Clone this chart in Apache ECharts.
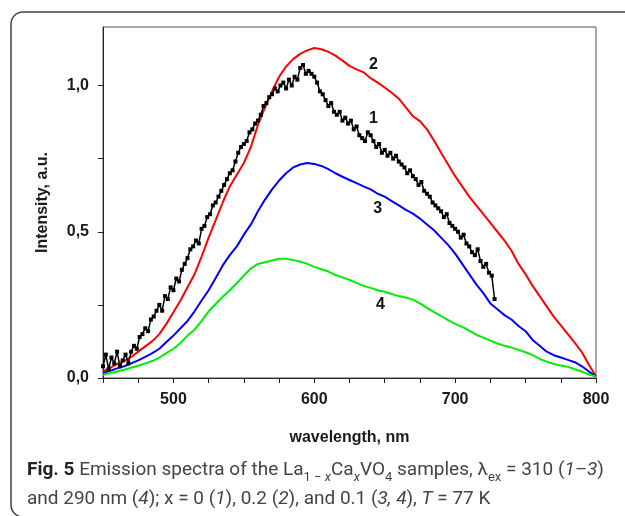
<!DOCTYPE html>
<html>
<head>
<meta charset="utf-8">
<title>Emission spectra La1-xCaxVO4</title>
<script src="https://cdn.jsdelivr.net/npm/echarts@6/dist/echarts.min.js"></script>
<style>
  html, body { margin: 0; padding: 0; background: #fff; }
  #chart { width: 625px; height: 516px; }
</style>
</head>
<body>
<div id="chart"></div>
<script>
// wavelength grid of the smooth curves (nm)
var wavelengths = [450, 455, 460, 465, 470, 475, 480, 485, 490, 495,
  500, 505, 510, 515, 520, 525, 530, 535, 540, 545,
  550, 555, 560, 565, 570, 575, 580, 585, 590, 595,
  600, 605, 610, 615, 620, 625, 630, 635, 640, 645,
  650, 655, 660, 665, 670, 675, 680, 685, 690, 695,
  700, 705, 710, 715, 720, 725, 730, 735, 740, 745,
  750, 755, 760, 765, 770, 775, 780, 785, 790, 795, 800];

// curve 2 (red), x = 0.2
var curve2 = [0.023, 0.035, 0.048, 0.058, 0.072, 0.090, 0.108, 0.126, 0.150, 0.185,
  0.225, 0.265, 0.310, 0.355, 0.415, 0.480, 0.540, 0.600, 0.655, 0.695,
  0.735, 0.790, 0.865, 0.925, 0.980, 1.030, 1.065, 1.090, 1.108, 1.120,
  1.128, 1.124, 1.115, 1.102, 1.085, 1.067, 1.055, 1.045, 1.025, 1.010,
  0.993, 0.975, 0.955, 0.925, 0.895, 0.878, 0.850, 0.812, 0.770, 0.730,
  0.690, 0.655, 0.620, 0.590, 0.560, 0.530, 0.500, 0.470, 0.435, 0.390,
  0.355, 0.315, 0.280, 0.245, 0.210, 0.180, 0.150, 0.120, 0.088, 0.045, 0.005];

// curve 3 (blue), x = 0.1, 310 nm
var curve3 = [0.017, 0.025, 0.033, 0.040, 0.050, 0.060, 0.072, 0.085, 0.100, 0.123,
  0.145, 0.170, 0.195, 0.228, 0.265, 0.300, 0.342, 0.385, 0.420, 0.450,
  0.490, 0.525, 0.570, 0.610, 0.645, 0.675, 0.700, 0.720, 0.730, 0.735,
  0.732, 0.725, 0.714, 0.700, 0.688, 0.677, 0.666, 0.655, 0.645, 0.630,
  0.620, 0.605, 0.590, 0.575, 0.562, 0.545, 0.525, 0.505, 0.480, 0.455,
  0.425, 0.390, 0.355, 0.320, 0.290, 0.255, 0.235, 0.215, 0.200, 0.178,
  0.160, 0.130, 0.110, 0.090, 0.078, 0.070, 0.062, 0.054, 0.040, 0.022, 0.005];

// curve 4 (green), x = 0.1, 290 nm
var curve4 = [0.011, 0.016, 0.022, 0.028, 0.035, 0.042, 0.050, 0.058, 0.070, 0.085,
  0.100, 0.120, 0.145, 0.165, 0.195, 0.228, 0.253, 0.278, 0.300, 0.325,
  0.350, 0.375, 0.390, 0.396, 0.402, 0.408, 0.408, 0.403, 0.398, 0.390,
  0.380, 0.372, 0.364, 0.352, 0.344, 0.335, 0.325, 0.315, 0.308, 0.300,
  0.295, 0.287, 0.280, 0.275, 0.268, 0.255, 0.240, 0.225, 0.212, 0.198,
  0.185, 0.175, 0.162, 0.148, 0.138, 0.128, 0.118, 0.110, 0.104, 0.096,
  0.088, 0.078, 0.065, 0.056, 0.048, 0.043, 0.038, 0.030, 0.022, 0.012, 0.005];

// curve 1 (black, noisy), x = 0
var curve1Wl = [450, 452, 454, 456, 458, 460, 462, 464, 466, 468,
  470, 472, 474, 476, 478, 480, 482, 484, 486, 488,
  490, 492, 494, 496, 498, 500, 502, 504, 506, 508,
  510, 512, 514, 516, 518, 520, 522, 524, 526, 528,
  530, 532, 534, 536, 538, 540, 542, 544, 546, 548,
  550, 552, 554, 556, 558, 560, 562, 564, 566, 568,
  570, 572, 574, 576, 578, 580, 582, 584, 586, 588,
  590, 592, 594, 596, 598, 600, 602, 604, 606, 608,
  610, 612, 614, 616, 618, 620, 622, 624, 626, 628,
  630, 632, 634, 636, 638, 640, 642, 644, 646, 648,
  650, 652, 654, 656, 658, 660, 662, 664, 666, 668,
  670, 672, 674, 676, 678, 680, 682, 684, 686, 688,
  690, 692, 694, 696, 698, 700, 702, 704, 706, 708,
  710, 712, 714, 716, 718, 720, 722, 724, 726, 728];
var curve1 = [0.04, 0.08, 0.03, 0.07, 0.05, 0.09, 0.04, 0.06, 0.08, 0.05,
  0.09, 0.11, 0.10, 0.14, 0.15, 0.17, 0.16, 0.20, 0.21, 0.23,
  0.25, 0.23, 0.28, 0.27, 0.31, 0.30, 0.34, 0.33, 0.37, 0.39,
  0.41, 0.44, 0.45, 0.47, 0.46, 0.51, 0.52, 0.55, 0.56, 0.59,
  0.60, 0.62, 0.64, 0.66, 0.68, 0.70, 0.71, 0.74, 0.77, 0.79,
  0.80, 0.81, 0.84, 0.85, 0.87, 0.88, 0.90, 0.93, 0.94, 0.96,
  0.97, 0.99, 0.98, 1.00, 1.01, 0.99, 1.02, 1.00, 1.03, 1.02,
  1.06, 1.07, 1.04, 1.05, 1.04, 1.03, 1.01, 0.98, 0.97, 0.95,
  0.93, 0.94, 0.91, 0.90, 0.91, 0.88, 0.89, 0.87, 0.88, 0.85,
  0.86, 0.83, 0.82, 0.81, 0.84, 0.83, 0.81, 0.79, 0.80, 0.77,
  0.78, 0.76, 0.77, 0.75, 0.76, 0.74, 0.73, 0.72, 0.70, 0.71,
  0.69, 0.68, 0.66, 0.67, 0.64, 0.63, 0.62, 0.60, 0.59, 0.58,
  0.57, 0.55, 0.56, 0.53, 0.52, 0.51, 0.50, 0.48, 0.49, 0.46,
  0.45, 0.43, 0.42, 0.44, 0.40, 0.38, 0.39, 0.36, 0.35, 0.27];

// axis ticks and labels
var xTicks = [450, 475, 500, 525, 550, 575, 600, 625, 650, 675, 700, 725, 750, 775, 800];
var xLabels = [500, 600, 700, 800];
var yTicks = [0, 0.25, 0.5, 0.75, 1.0];
var yLabels = [0, 0.5, 1.0];

// curve number tags (wavelength, intensity)
var tagNames = ['1', '2', '3', '4'];
var tagWl = [642, 642, 645, 647];
var tagVal = [0.886, 1.071, 0.578, 0.251];

function pairs(xs, ys) {
  var out = [];
  for (var i = 0; i < xs.length; i++) {
    out.push([xs[i], ys[i]]);
  }
  return out;
}

var tagData = [];
for (var k = 0; k < tagNames.length; k++) {
  tagData.push({ name: tagNames[k], value: [tagWl[k], tagVal[k]] });
}

var axisFont = { fontFamily: 'Liberation Sans', fontWeight: 'bold', fontSize: 16, color: '#1a1a1a' };
var capFont = 'Roboto';

var chart = echarts.init(document.getElementById('chart'));

var option = {
  animation: false,
  backgroundColor: '#fff',
  grid: {
    left: 103, top: 27, right: 29, bottom: 138,
    show: true, borderColor: '#555', borderWidth: 1
  },
  xAxis: {
    type: 'value',
    min: 450, max: 800,
    name: 'wavelength, nm',
    nameLocation: 'middle',
    nameGap: 52,
    nameTextStyle: axisFont,
    axisLine: { show: true, lineStyle: { color: '#222', width: 1 } },
    axisTick: { show: true, customValues: xTicks, length: 5, lineStyle: { color: '#222' } },
    axisLabel: {
      customValues: xLabels,
      margin: 14,
      fontFamily: axisFont.fontFamily, fontWeight: 'bold', fontSize: 16, color: '#1a1a1a'
    },
    splitLine: { show: false }
  },
  yAxis: {
    type: 'value',
    min: 0, max: 1.2,
    name: 'Intensity, a.u.',
    nameLocation: 'middle',
    nameGap: 52,
    nameTextStyle: axisFont,
    axisLine: { show: true, lineStyle: { color: '#222', width: 1 } },
    axisTick: { show: true, customValues: yTicks, length: 5, lineStyle: { color: '#222' } },
    axisLabel: {
      customValues: yLabels,
      margin: 14,
      fontFamily: axisFont.fontFamily, fontWeight: 'bold', fontSize: 16, color: '#1a1a1a',
      formatter: function (v) { return v.toFixed(1).replace('.', ','); }
    },
    splitLine: { show: false }
  },
  series: [
    {
      name: '2', type: 'line', data: pairs(wavelengths, curve2),
      showSymbol: false, lineStyle: { color: '#ff0000', width: 2 }
    },
    {
      name: '3', type: 'line', data: pairs(wavelengths, curve3),
      showSymbol: false, lineStyle: { color: '#0000ff', width: 2 }
    },
    {
      name: '4', type: 'line', data: pairs(wavelengths, curve4),
      showSymbol: false, lineStyle: { color: '#00ee00', width: 2 }
    },
    {
      name: '1', type: 'line', data: pairs(curve1Wl, curve1),
      symbol: 'rect', symbolSize: 4, showAllSymbol: true,
      itemStyle: { color: '#000' },
      lineStyle: { color: '#000', width: 1.5 }
    },
    {
      name: 'tags', type: 'scatter', data: tagData,
      symbolSize: 1, itemStyle: { color: 'rgba(0,0,0,0)', opacity: 1 },
      label: {
        show: true, position: 'inside',
        formatter: function (p) { return p.name; },
        fontFamily: 'Liberation Sans', fontWeight: 'bold', fontSize: 16,
        color: '#111', textBorderWidth: 0
      }
    }
  ],
  graphic: [
    {
      type: 'rect', silent: true,
      shape: { x: 11, y: 12, width: 700, height: 505, r: 12 },
      style: { fill: 'none', stroke: '#444', lineWidth: 1.5 }
    },
    {
      type: 'text', left: 27, top: 456,
      style: {
        text: '{b|Fig. 5} Emission spectra of the La{s|1 − }{si|x}Ca{si|x}VO{s|4} samples, λ{s|ex} = 310 ({i|1–3})',
        font: '19px ' + capFont, fill: '#444', lineHeight: 28,
        rich: {
          b: { fontFamily: capFont, fontWeight: 'bold', fontSize: 19, fill: '#222', lineHeight: 28 },
          s: { fontFamily: capFont, fontSize: 13, fill: '#444', lineHeight: 18, verticalAlign: 'bottom' },
          si: { fontFamily: capFont, fontSize: 13, fontStyle: 'italic', fill: '#444', lineHeight: 18, verticalAlign: 'bottom' },
          i: { fontFamily: capFont, fontSize: 19, fontStyle: 'italic', fill: '#444', lineHeight: 28 }
        }
      }
    },
    {
      type: 'text', left: 27, top: 485,
      style: {
        text: 'and 290 nm ({i|4}); x = 0 ({i|1}), 0.2 ({i|2}), and 0.1 ({i|3, 4}), {i|T} = 77 K',
        font: '19px ' + capFont, fill: '#444', lineHeight: 28,
        rich: {
          i: { fontFamily: capFont, fontSize: 19, fontStyle: 'italic', fill: '#444', lineHeight: 28 }
        }
      }
    }
  ]
};

chart.setOption(option);
</script>
</body>
</html>
